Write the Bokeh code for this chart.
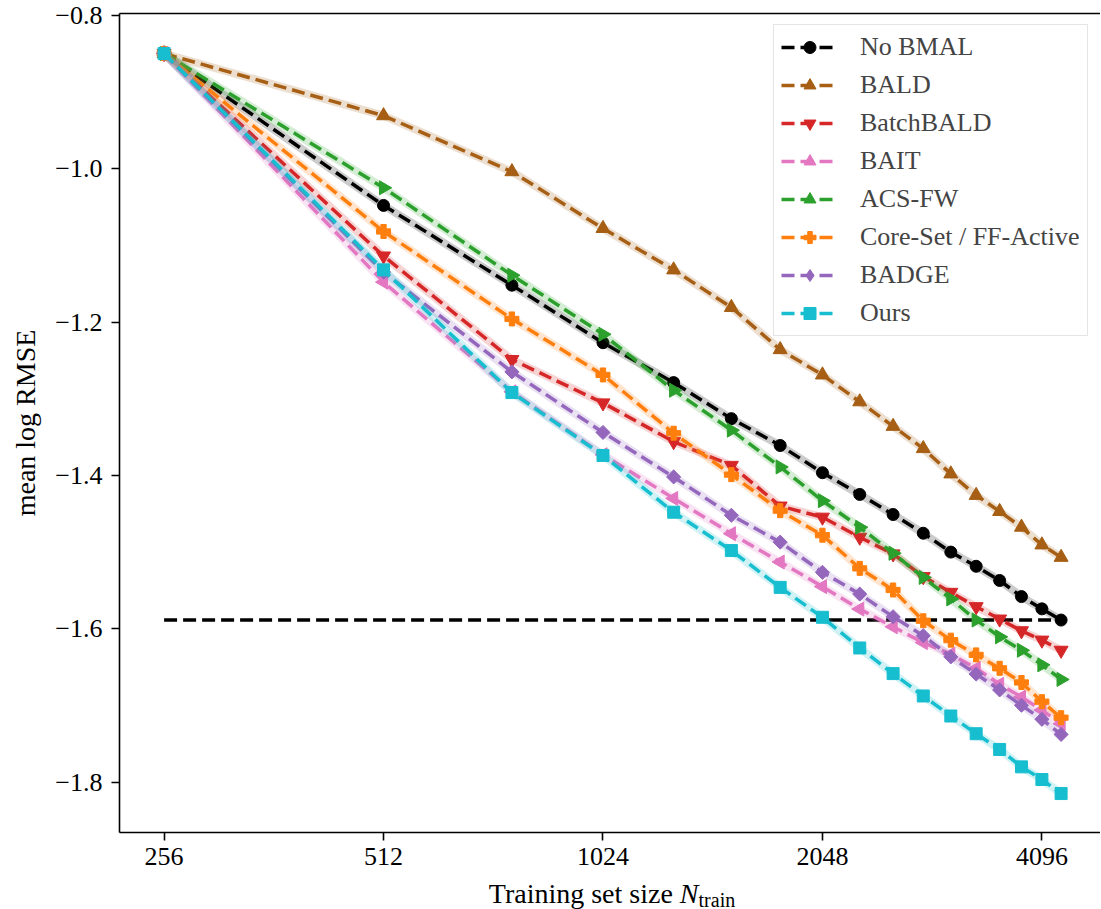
import math
from bokeh.plotting import figure
from bokeh.layouts import column
from bokeh.models import (Range1d, FixedTicker, LinearAxis, Legend, LegendItem, Div,
                          CustomJSTickFormatter)
from bokeh.embed import file_html
from bokeh.resources import INLINE

# ---------------- data ----------------
n_train = [256, 512, 768, 1024, 1280, 1536, 1792, 2048, 2304, 2560, 2816, 3072,
           3328, 3584, 3840, 4096, 4352]

no_bmal = [-0.850, -1.048, -1.152, -1.227, -1.279, -1.326, -1.361, -1.3965, -1.4248,
           -1.451, -1.4754, -1.500, -1.5185, -1.537, -1.558, -1.574, -1.5886]
bald = [-0.850, -0.931, -1.004, -1.078, -1.132, -1.181, -1.236, -1.269, -1.304,
        -1.336, -1.365, -1.398, -1.426, -1.447, -1.4675, -1.4906, -1.5068]
batchbald = [-0.850, -1.114, -1.249, -1.3055, -1.356, -1.387, -1.440, -1.4545, -1.4806,
             -1.5024, -1.532, -1.5525, -1.5712, -1.5873, -1.6026, -1.6148, -1.628]
bait = [-0.850, -1.148, -1.291, -1.373, -1.430, -1.476, -1.513, -1.545, -1.5743,
        -1.5974, -1.618, -1.633, -1.6515, -1.6723, -1.689, -1.706, -1.7238]
acs_fw = [-0.850, -1.025, -1.139, -1.216, -1.289, -1.341, -1.389, -1.433, -1.4676,
          -1.5015, -1.533, -1.561, -1.5886, -1.6105, -1.628, -1.647, -1.666]
core_set = [-0.850, -1.082, -1.196, -1.269, -1.345, -1.399, -1.446, -1.478, -1.5212,
            -1.5494, -1.5895, -1.6148, -1.634, -1.6515, -1.670, -1.695, -1.7159]
badge = [-0.850, -1.135, -1.265, -1.344, -1.402, -1.452, -1.487, -1.5264, -1.5547,
         -1.5843, -1.609, -1.6366, -1.659, -1.6797, -1.6997, -1.718, -1.7377]
ours = [-0.850, -1.132, -1.292, -1.374, -1.448, -1.498, -1.546, -1.585, -1.625,
        -1.6584, -1.6876, -1.7137, -1.7368, -1.7573, -1.780, -1.7965, -1.8148]

series_names = ["No BMAL", "BALD", "BatchBALD", "BAIT", "ACS-FW",
                "Core-Set / FF-Active", "BADGE", "Ours"]
series_values = [no_bmal, bald, batchbald, bait, acs_fw, core_set, badge, ours]

x_ticks = [256, 512, 1024, 2048, 4096]
x_tick_labels = ["256", "512", "1024", "2048", "4096"]
y_ticks = [-0.8, -1.0, -1.2, -1.4, -1.6, -1.8]
y_tick_labels = ["\u22120.8", "\u22121.0", "\u22121.2", "\u22121.4", "\u22121.6", "\u22121.8"]

# ---------------- styles ----------------
colors = ["#000000", "#a65f14", "#d62728", "#e377c2", "#2ca02c", "#ff7f0e", "#9467bd", "#17becf"]
markers = ["circle", "triangle", "inverted_triangle", "triangle", "triangle", "plus",
           "square", "square"]
angles = [0.0, 0.0, 0.0, math.pi / 2, -math.pi / 2, 0.0, math.pi / 4, 0.0]
sizes = [12, 14, 14, 14, 14, 14, 10, 12]
# marker shown in the legend (the legend does not rotate markers)
legend_markers = [None, None, None, None, None, None, "diamond", None]

SERIF = "Liberation Serif"
W = 1100
FIG_H = 880     # frame bottom at 832
LABEL_H = 28

p = figure(width=W, height=FIG_H, x_axis_type="log", output_backend="svg",
           toolbar_location=None,
           x_range=Range1d(2 ** 7.7968, 2 ** 12.2670),
           y_range=Range1d(-1.86558, -0.79778),
           min_border_left=119, min_border_right=0, min_border_top=13,
           min_border_bottom=FIG_H - 832)
p.outline_line_color = None
p.xgrid.visible = False
p.ygrid.visible = False
p.background_fill_color = "white"
p.border_fill_color = "white"

# baseline: final value of No BMAL
p.line(x=[n_train[0], n_train[-1]], y=[no_bmal[-1], no_bmal[-1]], line_color="black",
       line_width=3.5, line_dash="13 6")

items = []
for name, vals, col, mk, ang, sz, lmk in zip(series_names, series_values, colors, markers,
                                              angles, sizes, legend_markers):
    p.line(x=n_train, y=vals, line_color=col, line_alpha=0.2, line_width=8)
    ln = p.line(x=n_train, y=vals, line_color=col, line_width=3.5, line_dash="13 6")
    sc = p.scatter(x=n_train, y=vals, marker=mk, size=sz, angle=ang,
                   fill_color=col, line_color=col)
    if lmk is not None:
        leg_sc = p.scatter(x=n_train, y=vals, marker=lmk, size=sz,
                           fill_color=col, line_color=col, visible=False)
        items.append(LegendItem(label=name, renderers=[ln, leg_sc]))
    else:
        items.append(LegendItem(label=name, renderers=[ln, sc]))

legend = Legend(items=items, location=(654, 496),
                label_text_font=SERIF, label_text_font_size="26px",
                glyph_width=57, glyph_height=30, label_height=30, spacing=8,
                padding=7, label_standoff=22, margin=0,
                border_line_color="#cccccc", border_line_width=1.5,
                background_fill_color="white", background_fill_alpha=0.8)
p.add_layout(legend)

FMT_CODE = """
    let best = 0;
    for (let i = 0; i < tvals.length; i++) {
        if (Math.abs(tvals[i] - tick) < Math.abs(tvals[best] - tick)) best = i;
    }
    return tlabs[best];
"""

# axes
p.xaxis.ticker = FixedTicker(ticks=x_ticks, minor_ticks=[])
p.xaxis.formatter = CustomJSTickFormatter(args=dict(tvals=x_ticks, tlabs=x_tick_labels),
                                          code=FMT_CODE)
p.yaxis.ticker = FixedTicker(ticks=y_ticks, minor_ticks=[])
p.yaxis.formatter = CustomJSTickFormatter(args=dict(tvals=y_ticks, tlabs=y_tick_labels),
                                          code=FMT_CODE)
for ax in (p.xaxis[0], p.yaxis[0]):
    ax.axis_line_color = "black"
    ax.axis_line_width = 1.6
    ax.major_tick_line_color = "black"
    ax.major_tick_line_width = 1.6
    ax.major_tick_out = 8
    ax.major_tick_in = 0
    ax.minor_tick_out = 0
    ax.minor_tick_in = 0
    ax.major_label_text_font = SERIF
    ax.major_label_text_font_size = "26px"
    ax.major_label_text_color = "black"
p.xaxis.major_label_standoff = 7
p.yaxis.major_label_standoff = 9

p.yaxis.axis_label = "mean log RMSE"
p.yaxis.axis_label_text_font = SERIF
p.yaxis.axis_label_text_font_size = "28px"
p.yaxis.axis_label_text_font_style = "normal"
p.yaxis.axis_label_text_color = "black"
p.yaxis.axis_label_standoff = 11

# top spine
top = LinearAxis(ticker=FixedTicker(ticks=[]), major_tick_out=0, major_tick_in=0,
                 minor_tick_out=0, minor_tick_in=0, major_label_standoff=0,
                 major_label_text_font_size="0px", axis_line_color="black",
                 axis_line_width=1.6)
p.add_layout(top, "above")

# x axis label (with subscript) as real HTML text, centred under the frame
xlabel = Div(
    text='Training set size <i>N</i><sub style="font-size:20px; vertical-align:-4px; '
         'line-height:0;">train</sub>',
    width=976, height=LABEL_H, margin=(0, 0, 0, 124),
    styles={"font-family": SERIF, "font-size": "28px", "line-height": "28px",
            "text-align": "center", "color": "black"})

layout = column(p, xlabel, spacing=0)

open("out.html", "w").write(file_html(layout, INLINE))
